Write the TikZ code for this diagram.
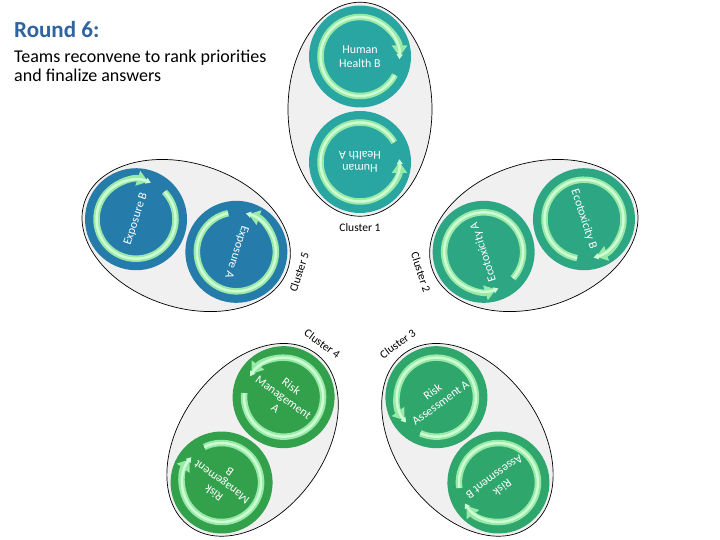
\documentclass[tikz,border=0pt]{standalone}
\usepackage{fontspec}
\setmainfont{Carlito}
\usetikzlibrary{arrows.meta,shapes.geometric,calc}
\definecolor{hhcol}{HTML}{29A6A1}
\definecolor{excol}{HTML}{257BAA}
\definecolor{eccol}{HTML}{2CA683}
\definecolor{racol}{HTML}{2EA66C}
\definecolor{rmcol}{HTML}{33A04B}
\definecolor{ringA}{HTML}{98EAA6}
\definecolor{ringB}{HTML}{CFFCD6}
\definecolor{titleblue}{HTML}{2E64A0}
\definecolor{ellfill}{HTML}{F0F0F0}
\tikzset{
  cluster/.style={ellipse, draw=black, line width=0.7pt, fill=ellfill,
    minimum width=214pt, minimum height=144pt, inner sep=0pt},
  disc/.style={circle, fill=#1, minimum size=102pt, inner sep=0pt,
    text=white, align=center, font=\fontsize{12}{13.5}\selectfont},
  band/.style={line width=6.5pt, draw=ringA, -{Triangle[width=15pt,length=11pt]}},
  core/.style={line width=2.4pt, draw=ringB, -{Triangle[width=6pt,length=5pt]}},
  clab/.style={font=\fontsize{11.5}{13}\selectfont, inner sep=0pt},
}
\begin{document}
\begin{tikzpicture}[x=1pt,y=1pt]
\useasboundingbox (0,0) rectangle (720,540);
\fill[white] (0,0) rectangle (720,540);
\coordinate (O) at (360,248);
% cluster ellipses
\foreach \a/\n in {90/1,18/2,306/3,234/4,162/5}{
  \node[cluster, rotate=\a] (cl\n) at ($(O)+(\a:182.75)$) {};
}
% discs and rings
\foreach \a/\c/\ot/\it/\n in {
  90/hhcol/{Human\\Health B}/{Human\\Health A}/1,
  18/eccol/{Ecotoxicity B}/{Ecotoxicity A}/2,
  306/racol/{Risk\\Assessment B}/{Risk\\Assessment A}/3,
  234/rmcol/{Risk\\Management\\B}/{Risk\\Management\\A}/4,
  162/excol/{Exposure B}/{Exposure A}/5}{
  \node[disc=\c, rotate=\a-90] (out\n) at ($(O)+(\a:235.5)$) {\ot};
  \node[disc=\c, rotate=\a+90] (in\n) at ($(O)+(\a:130)$) {\it};
  % outer ring: clockwise
  \draw[band] (out\n.center) ++({\a-90-28}:39.5)
     arc[start angle={\a-90-28}, end angle={\a-90-360}, radius=39.5];
  \draw[core] (out\n.center) ++({\a-90-28}:39.5)
     arc[start angle={\a-90-28}, end angle={\a-90-364}, radius=39.5];
  % inner ring: counter-clockwise
  \draw[band] (in\n.center) ++({\a-90+30}:39.5)
     arc[start angle={\a-90+30}, end angle={\a-90+360}, radius=39.5];
  \draw[core] (in\n.center) ++({\a-90+30}:39.5)
     arc[start angle={\a-90+30}, end angle={\a-90+364}, radius=39.5];
}
% cluster labels
\foreach \a/\r/\n in {90/0/1,18/-72/2,306/36/3,234/-36/4,162/72/5}{
  \node[clab, rotate=\r] (lab\n) at ($(O)+(\a:64)$) {Cluster \n};
}
% title
\node[anchor=base west, inner sep=0pt, text=titleblue,
  font=\bfseries\fontsize{23}{27}\selectfont] (title) at (14,502) {Round 6:};
\node[anchor=base west, inner sep=0pt, font=\fontsize{18}{20}\selectfont]
  (sub1) at (14,477) {Teams reconvene to rank priorities};
\node[anchor=base west, inner sep=0pt, font=\fontsize{18}{20}\selectfont]
  (sub2) at (14,458) {and finalize answers};
\end{tikzpicture}
\end{document}
